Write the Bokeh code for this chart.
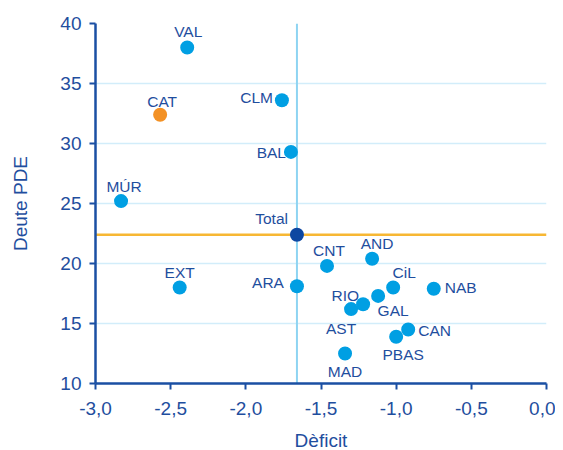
from bokeh.plotting import figure
from bokeh.models import ColumnDataSource, LabelSet, FixedTicker, Span
from bokeh.core.properties import value
from bokeh.embed import file_html
from bokeh.resources import INLINE

regions = ["VAL", "CAT", "CLM", "BAL", "MÚR", "Total", "EXT", "ARA", "CNT", "AND",
           "CiL", "NAB", "RIO", "GAL", "AST", "CAN", "PBAS", "MAD"]
deficit = [-2.39, -2.57, -1.76, -1.70, -2.83, -1.66, -2.44, -1.66, -1.46, -1.16,
           -1.02, -0.75, -1.22, -1.12, -1.30, -0.92, -1.00, -1.34]
deute = [38.0, 32.4, 33.6, 29.3, 25.2, 22.4, 18.0, 18.1, 19.8, 20.4,
         18.0, 17.9, 16.6, 17.3, 16.2, 14.5, 13.9, 12.5]
total_x = -1.66
total_y = 22.4
x_ticks = [-3.0, -2.5, -2.0, -1.5, -1.0, -0.5, 0.0]
y_ticks = [10, 15, 20, 25, 30, 35, 40]

BLUE = "#009FE3"
ORANGE = "#F39125"
DARK = "#0D47A1"
TXT = "#1F4E9E"
FONT = "Liberation Sans"

colors = [ORANGE if r == "CAT" else (DARK if r == "Total" else BLUE) for r in regions]

# label placement (pixel offsets, text vertically centred)
xo = [1, 2, -9, -5, 3, -9, 0, -13, 2, 5, 11, 11, -4, 15, -10, 10, 7, 0]
yo = [16, 13, 3, -1, 15, 16, 15, 4, 15, 15, 15, 1, 9, -15, -19, -1, -18, -18]
al = ["center", "center", "right", "right", "center", "right", "center", "right",
      "center", "center", "center", "left", "right", "center", "center", "left",
      "center", "center"]

src = ColumnDataSource(dict(x=deficit, y=deute, name=regions, color=colors,
                            xo=xo, yo=yo, al=al))

p = figure(frame_width=451, frame_height=360, x_range=(-3.0, 0.0), y_range=(10, 40),
           output_backend="svg", toolbar_location=None,
           min_border_left=95, min_border_top=23, min_border_right=9, min_border_bottom=64)
p.outline_line_color = None
p.background_fill_color = "white"
p.border_fill_color = "white"

p.xgrid.grid_line_color = None
p.ygrid.grid_line_color = "#D2EDFA"
p.ygrid.grid_line_width = 1.5
p.ygrid.ticker = FixedTicker(ticks=y_ticks)

p.xaxis.ticker = FixedTicker(ticks=x_ticks)
p.yaxis.ticker = FixedTicker(ticks=y_ticks)
p.xaxis.major_label_overrides = {t: f"{t:.1f}".replace(".", ",") for t in x_ticks}

for ax in (p.xaxis, p.yaxis):
    ax.axis_line_color = "#1A4FA3"
    ax.axis_line_width = 2.5
    ax.major_tick_line_color = "#1A4FA3"
    ax.major_tick_line_width = 2
    ax.major_tick_out = 6
    ax.major_tick_in = 0
    ax.minor_tick_line_color = None
    ax.major_label_text_font = FONT
    ax.major_label_text_font_size = "19px"
    ax.major_label_text_color = TXT
    ax.axis_label_text_font = FONT
    ax.axis_label_text_font_size = "19px"
    ax.axis_label_text_font_style = "normal"
    ax.axis_label_text_color = TXT

p.xaxis.axis_label = "Dèficit"
p.yaxis.axis_label = "Deute PDE"
p.xaxis.major_label_standoff = 12
p.xaxis.axis_label_standoff = 12
p.yaxis.major_label_standoff = 8
p.yaxis.axis_label_standoff = 26

p.add_layout(Span(location=total_x, dimension="height", line_color="#8ED4F2",
                  line_width=2, level="underlay"))
p.add_layout(Span(location=total_y, dimension="width", line_color="#F7B733",
                  line_width=2.5, level="underlay"))

p.scatter("x", "y", source=src, size=14, fill_color="color", line_color=None)

labels = LabelSet(x="x", y="y", text="name", source=src, x_offset="xo", y_offset="yo",
                  text_align="al", text_baseline="middle", text_font=value(FONT),
                  text_font_size="15.5px", text_color=TXT)
p.add_layout(labels)

open("out.html", "w").write(file_html(p, INLINE))
